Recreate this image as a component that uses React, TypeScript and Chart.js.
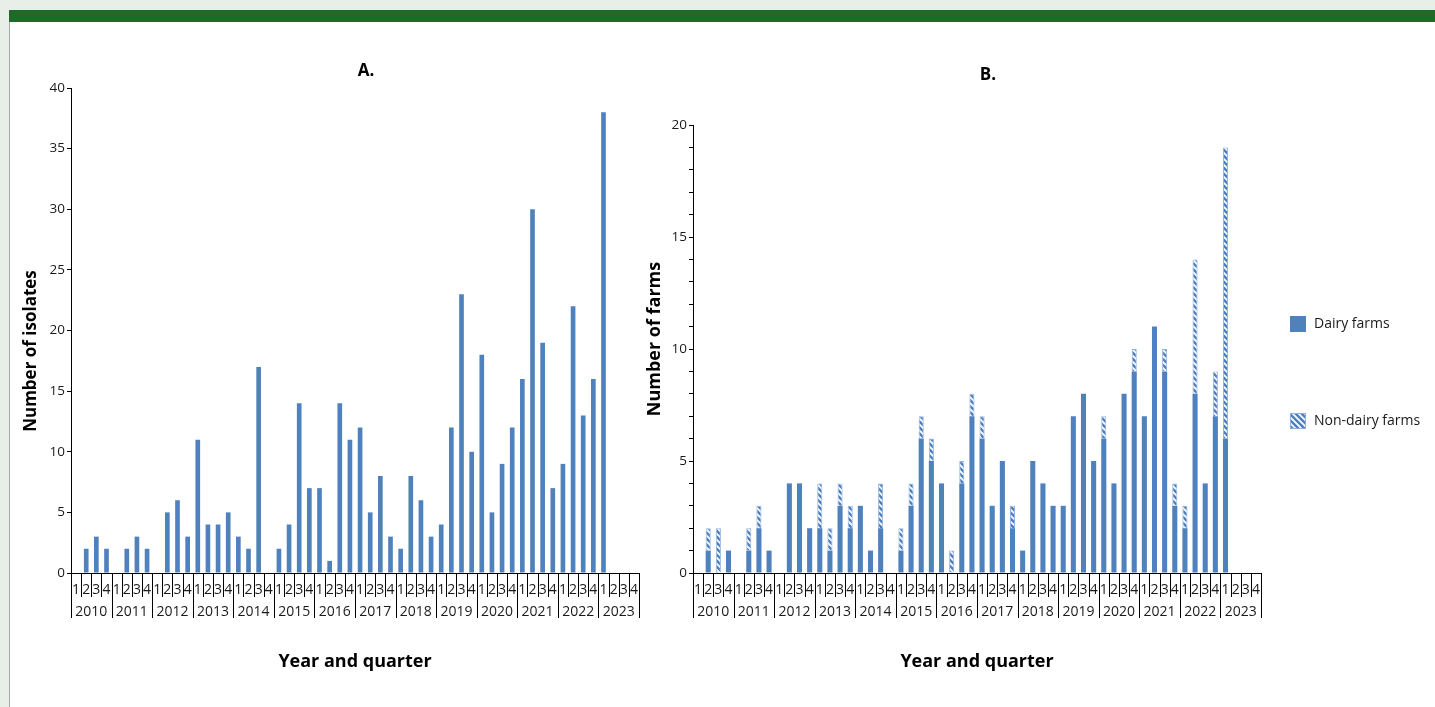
import React, { useEffect, useRef } from "react";
import { Chart, registerables } from "chart.js";

Chart.register(...registerables);

// ---------------- data ----------------
const YEARS = ["2010", "2011", "2012", "2013", "2014", "2015", "2016", "2017", "2018", "2019", "2020", "2021", "2022", "2023"];
const QUARTERS = ["1", "2", "3", "4"];
const CATEGORIES = YEARS.flatMap((y) => QUARTERS.map((q) => `${y} Q${q}`));

// Panel A: number of isolates per quarter
const ISOLATES = [
  0, 2, 3, 2,
  0, 2, 3, 2,
  0, 5, 6, 3,
  11, 4, 4, 5,
  3, 2, 17, 0,
  2, 4, 14, 7,
  7, 1, 14, 11,
  12, 5, 8, 3,
  2, 8, 6, 3,
  4, 12, 23, 10,
  18, 5, 9, 12,
  16, 30, 19, 7,
  9, 22, 13, 16,
  38, 0, 0, 0,
];

// Panel B: number of farms per quarter
const DAIRY_FARMS = [
  0, 1, 0, 1,
  0, 1, 2, 1,
  0, 4, 4, 2,
  2, 1, 3, 2,
  3, 1, 2, 0,
  1, 3, 6, 5,
  4, 0, 4, 7,
  6, 3, 5, 2,
  1, 5, 4, 3,
  3, 7, 8, 5,
  6, 4, 8, 9,
  7, 11, 9, 3,
  2, 8, 4, 7,
  6, 0, 0, 0,
];
const NON_DAIRY_FARMS = [
  0, 1, 2, 0,
  0, 1, 1, 0,
  0, 0, 0, 0,
  2, 1, 1, 1,
  0, 0, 2, 0,
  1, 1, 1, 1,
  0, 1, 1, 1,
  1, 0, 0, 1,
  0, 0, 0, 0,
  0, 0, 0, 0,
  1, 0, 0, 1,
  0, 0, 1, 1,
  1, 6, 0, 2,
  13, 0, 0, 0,
];

const TITLE_A = "A.";
const TITLE_B = "B.";
const Y_TITLE_A = "Number of isolates";
const Y_TITLE_B = "Number of farms";
const X_TITLE = "Year and quarter";
const LEGEND_LABELS = ["Dairy farms", "Non-dairy farms"];

// ---------------- styling ----------------
const BLUE = "#4f81bd";
const HATCH_BORDER = "#8fb2de";
const FONT = "'Open Sans', 'DejaVu Sans', sans-serif";
const TEXT = "#1a1a1a";

Chart.defaults.font.family = FONT;
Chart.defaults.color = TEXT;

function makeHatch(): CanvasPattern | string {
  const c = document.createElement("canvas");
  const s = 6;
  c.width = s;
  c.height = s;
  const g = c.getContext("2d");
  if (!g) return BLUE;
  g.fillStyle = BLUE;
  g.fillRect(0, 0, s, s);
  g.strokeStyle = "#ffffff";
  g.lineWidth = 1.7;
  g.beginPath();
  g.moveTo(-1, -1);
  g.lineTo(s + 1, s + 1);
  g.moveTo(-1, s - 1);
  g.lineTo(1, s + 1);
  g.moveTo(s - 1, -1);
  g.lineTo(s + 1, 1);
  g.stroke();
  const p = g.createPattern(c, "repeat");
  return p || BLUE;
}

type DecorCfg = {
  title: string;
  titleY: number;
  yTitle: string;
  yTitleDx: number;
  yTitleY: number;
  yTitleFont: string;
  legend?: { labels: string[]; fills: any[]; borders: string[]; ys: number[] };
};

function makeDecor(cfg: DecorCfg) {
  return {
    id: "decor",
    afterDraw(chart: any) {
      const { ctx, chartArea: ca } = chart;
      const x = chart.scales.x;
      const base = ca.bottom;
      ctx.save();
      // x-axis separators
      ctx.strokeStyle = "#000";
      ctx.lineWidth = 1;
      for (let k = 0; k <= CATEGORIES.length; k++) {
        const px = Math.round(x.getPixelForValue(k - 0.5)) + 0.5;
        ctx.beginPath();
        ctx.moveTo(px, base);
        ctx.lineTo(px, base + (k % 4 === 0 ? 45 : 24));
        ctx.stroke();
      }
      // quarter and year labels
      ctx.fillStyle = TEXT;
      ctx.textAlign = "center";
      ctx.textBaseline = "middle";
      ctx.font = `14px ${FONT}`;
      CATEGORIES.forEach((_c, i) => {
        ctx.fillText(QUARTERS[i % 4], x.getPixelForValue(i), base + 17);
      });
      YEARS.forEach((y, j) => {
        const cx = (x.getPixelForValue(j * 4) + x.getPixelForValue(j * 4 + 3)) / 2;
        ctx.fillText(y, cx, base + 39);
      });
      // titles
      const mid = (ca.left + ca.right) / 2;
      ctx.fillStyle = "#000";
      ctx.font = `bold 18px ${FONT}`;
      ctx.fillText(X_TITLE, mid, 662);
      ctx.font = `bold 17px ${FONT}`;
      ctx.fillText(cfg.title, mid + 11, cfg.titleY);
      ctx.save();
      ctx.translate(ca.left + cfg.yTitleDx, cfg.yTitleY);
      ctx.rotate(-Math.PI / 2);
      ctx.font = cfg.yTitleFont;
      ctx.fillText(cfg.yTitle, 0, 0);
      ctx.restore();
      // legend
      if (cfg.legend) {
        const L = cfg.legend;
        ctx.textAlign = "left";
        ctx.font = `14px ${FONT}`;
        L.labels.forEach((lab, i) => {
          const bx = ca.right + 29;
          const by = L.ys[i] - 8;
          ctx.fillStyle = L.fills[i];
          ctx.fillRect(bx, by, 16, 16);
          if (L.borders[i]) {
            ctx.strokeStyle = L.borders[i];
            ctx.lineWidth = 1;
            ctx.strokeRect(bx + 0.5, by + 0.5, 15, 15);
          }
          ctx.fillStyle = TEXT;
          ctx.fillText(lab, ca.right + 53, L.ys[i]);
        });
      }
      ctx.restore();
    },
  };
}

function baseScales(yMax: number, yStep: number, yWidth: number, labelEvery: number) {
  return {
    x: {
      type: "category" as const,
      offset: true,
      stacked: true,
      grid: { display: false },
      ticks: { display: false },
      border: { display: true, color: "#000", width: 1 },
      afterFit: (s: any) => {
        s.height = 134;
      },
    },
    y: {
      min: 0,
      max: yMax,
      stacked: true,
      grid: { display: true, drawOnChartArea: false, drawTicks: true, tickLength: 4, color: "#000" },
      border: { display: true, color: "#000", width: 1 },
      ticks: {
        stepSize: yStep,
        autoSkip: false,
        padding: 2,
        color: TEXT,
        font: { size: 13.5 },
        callback: (v: any) => (Number(v) % labelEvery === 0 ? String(v) : ""),
      },
      afterFit: (s: any) => {
        s.width = yWidth;
      },
    },
  };
}

function ChartA() {
  const ref = useRef<HTMLCanvasElement>(null);
  useEffect(() => {
    if (!ref.current) return;
    const chart = new Chart(ref.current, {
      type: "bar",
      data: {
        labels: CATEGORIES,
        datasets: [
          {
            label: "Isolates",
            data: ISOLATES,
            backgroundColor: BLUE,
            borderWidth: 0,
            categoryPercentage: 1,
            barPercentage: 0.46,
          },
        ],
      },
      options: {
        animation: false,
        responsive: false,
        events: [],
        layout: { padding: { left: 0, top: 88, right: 6, bottom: 0 } },
        plugins: { legend: { display: false }, tooltip: { enabled: false }, title: { display: false } },
        scales: baseScales(40, 5, 71, 5) as any,
      },
      plugins: [
        makeDecor({
          title: TITLE_A,
          titleY: 71,
          yTitle: Y_TITLE_A,
          yTitleDx: -40,
          yTitleY: 351,
          yTitleFont: `bold 17px ${FONT}`,
        }),
      ],
    });
    return () => chart.destroy();
  }, []);
  return (
    <canvas
      ref={ref}
      width={645}
      height={707}
      style={{ position: "absolute", left: 0, top: 0, width: 645, height: 707 }}
    />
  );
}

function ChartB() {
  const ref = useRef<HTMLCanvasElement>(null);
  useEffect(() => {
    if (!ref.current) return;
    const hatch = makeHatch();
    const chart = new Chart(ref.current, {
      type: "bar",
      data: {
        labels: CATEGORIES,
        datasets: [
          {
            label: LEGEND_LABELS[0],
            data: DAIRY_FARMS,
            backgroundColor: BLUE,
            borderWidth: 0,
            categoryPercentage: 1,
            barPercentage: 0.5,
          },
          {
            label: LEGEND_LABELS[1],
            data: NON_DAIRY_FARMS,
            backgroundColor: hatch as any,
            borderColor: HATCH_BORDER,
            borderWidth: 1,
            categoryPercentage: 1,
            barPercentage: 0.5,
          },
        ],
      },
      options: {
        animation: false,
        responsive: false,
        events: [],
        layout: { padding: { left: 0, top: 125, right: 174, bottom: 0 } },
        plugins: { legend: { display: false }, tooltip: { enabled: false }, title: { display: false } },
        scales: baseScales(20, 1, 48, 5) as any,
      },
      plugins: [
        makeDecor({
          title: TITLE_B,
          titleY: 75,
          yTitle: Y_TITLE_B,
          yTitleDx: -38,
          yTitleY: 339,
          yTitleFont: `bold 18px ${FONT}`,
          legend: {
            labels: LEGEND_LABELS,
            fills: [BLUE, hatch],
            borders: ["", HATCH_BORDER],
            ys: [324, 421],
          },
        }),
      ],
    });
    return () => chart.destroy();
  }, []);
  return (
    <canvas
      ref={ref}
      width={790}
      height={707}
      style={{ position: "absolute", left: 645, top: 0, width: 790, height: 707 }}
    />
  );
}

export default function App() {
  return (
    <div
      style={{
        position: "fixed",
        left: 0,
        top: 0,
        width: 1435,
        height: 707,
        background: "#e8efe9",
        overflow: "hidden",
      }}
    >
      <div
        style={{
          position: "absolute",
          left: 9,
          top: 10,
          right: 0,
          bottom: 0,
          background: "#ffffff",
          borderLeft: "1px solid #a9ada9",
        }}
      />
      <div style={{ position: "absolute", left: 9, top: 10, right: 0, height: 12, background: "#1e6b27" }} />
      <ChartA />
      <ChartB />
    </div>
  );
}
